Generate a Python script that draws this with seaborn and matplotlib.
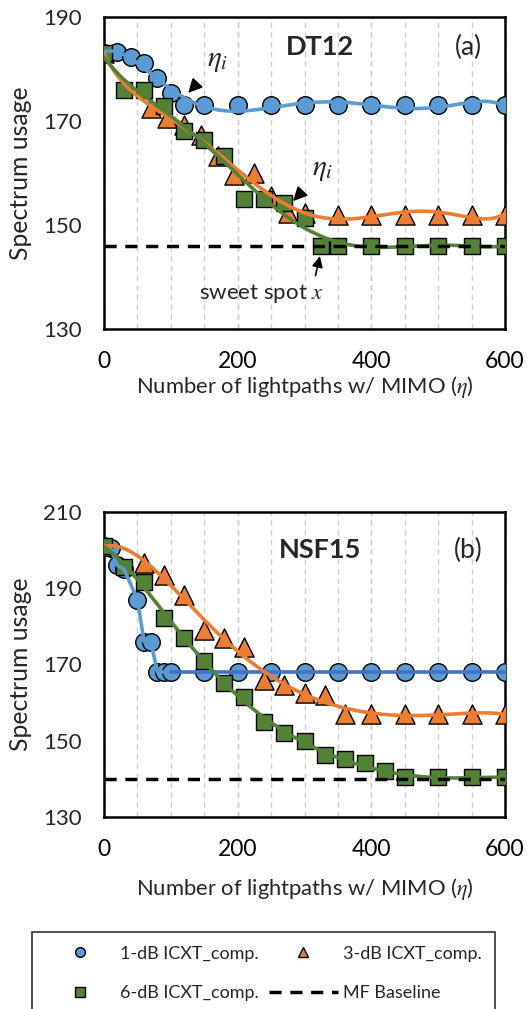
import numpy as np
import pandas as pd
import matplotlib
matplotlib.use("Agg")
import matplotlib.pyplot as plt
import seaborn as sns
from matplotlib.lines import Line2D
from matplotlib.ticker import MultipleLocator

# ---- panel (a) DT12 ----
dt_blue_x = [0, 20, 40, 60, 80, 100, 120, 150, 200, 250, 300, 350, 400, 450, 500, 550, 600]
dt_blue_y = [183, 183.2, 182.3, 181.2, 178.3, 175.4, 173, 173, 173, 173, 173, 173, 173, 173, 173, 173, 173]
dt_orange_x = [0, 70, 95, 120, 145, 170, 195, 225, 250, 275, 300, 350, 400, 450, 500, 550, 600]
dt_orange_y = [183, 172.5, 170.6, 169.3, 167.4, 163.2, 159.7, 160, 155.5, 152.3, 152.3, 152, 152, 152, 152, 152, 152]
dt_green_x = [0, 30, 60, 90, 120, 150, 180, 210, 240, 270, 300, 325, 350, 400, 450, 500, 550, 600]
dt_green_y = [183, 176, 176, 172.8, 168, 166.4, 163.2, 155, 155, 154.2, 151.3, 146, 146, 146, 146, 146, 146, 146]
dt_baseline = 146

# ---- panel (b) NSF15 ----
nsf_blue_x = [0, 10, 20, 30, 50, 60, 70, 80, 90, 100, 150, 200, 250, 300, 350, 400, 450, 500, 550, 600]
nsf_blue_y = [201, 200.5, 196, 195, 187, 176, 176, 168, 168, 168, 168, 168, 168, 168, 168, 168, 168, 168, 168, 168]
nsf_orange_x = [0, 60, 90, 120, 150, 180, 210, 240, 270, 300, 330, 360, 400, 450, 500, 550, 600]
nsf_orange_y = [201, 196.5, 193.5, 188.2, 179, 176.9, 174.7, 166, 164.6, 162.4, 162, 157, 157, 157, 157, 157, 157]
nsf_green_x = [0, 30, 60, 90, 120, 150, 180, 210, 240, 270, 300, 330, 360, 390, 420, 450, 500, 550, 600]
nsf_green_y = [201, 195.7, 191.7, 182.1, 176.9, 171, 165.1, 161.6, 155, 152, 150, 146.3, 145.1, 144.1, 142.1, 140.4, 140.4, 140.4, 140.4]
nsf_baseline = 140

series_names = ["1-dB ICXT_comp.", "3-dB ICXT_comp.", "6-dB ICXT_comp.", "MF Baseline"]
c_blue = "#5B9BD5"
c_blue_dark = "#4472C4"
c_orange = "#ED7D31"
c_green = "#548235"

sns.set_theme(style="white")
plt.rcParams['font.family'] = ['Lato', 'DejaVu Sans']
plt.rcParams['mathtext.fontset'] = 'stix'

fig = plt.figure(figsize=(5.27, 10.09), dpi=100)
ax_a = fig.add_axes([104 / 527, 1 - 329 / 1009, 401 / 527, 312 / 1009])
ax_b = fig.add_axes([104 / 527, 1 - 817 / 1009, 401 / 527, 305 / 1009])


def trend(x, y, deg=6):
    # polynomial trendline like the spreadsheet one
    p = np.polynomial.Polynomial.fit(x, y, deg)
    xs = np.linspace(min(x), max(x), 300)
    return pd.DataFrame({"x": xs, "y": p(xs)})


def draw_points(ax, x, y, color, marker, size):
    sns.scatterplot(x=x, y=y, ax=ax, color=color, marker=marker, s=size,
                    edgecolor="black", linewidth=1.0, zorder=3, legend=False)


def style_axes(ax, ylo, yhi, xlabelpad):
    ax.set_xlim(0, 600)
    ax.set_ylim(ylo, yhi)
    ax.set_xticks([0, 200, 400, 600])
    ax.set_yticks(np.arange(ylo, yhi + 1, 20))
    ax.xaxis.set_minor_locator(MultipleLocator(50))
    ax.yaxis.set_minor_locator(MultipleLocator(10))
    ax.xaxis.remove_overlapping_locs = False
    ax.grid(axis="x", which="both", ls=(0, (4, 3)), color="#cfcfcf", lw=1.0, zorder=0)
    ax.grid(axis="y", visible=False)
    ax.tick_params(axis="x", which="major", direction="inout", length=9, width=1.5,
                   labelsize=16.5, pad=11.5, colors="black")
    ax.tick_params(axis="x", which="minor", direction="in", length=5, width=1.5)
    ax.tick_params(axis="y", which="both", direction="out", length=5, width=1.5,
                   labelsize=16, pad=11)
    for s in ax.spines.values():
        s.set_color("black")
        s.set_linewidth(1.8)
    ax.set_ylabel("Spectrum usage", fontsize=17.8, labelpad=8)
    ax.set_xlabel(r"Number of lightpaths w/ MIMO ($\eta$)", fontsize=15.8, labelpad=xlabelpad)


# ---- (a) ----
draw_points(ax_a, dt_blue_x, dt_blue_y, c_blue, "o", 160)
draw_points(ax_a, dt_orange_x, dt_orange_y, c_orange, "^", 190)
draw_points(ax_a, dt_green_x, dt_green_y, c_green, "s", 120)
for xx, yy, col in [(dt_blue_x, dt_blue_y, c_blue), (dt_orange_x, dt_orange_y, c_orange),
                    (dt_green_x, dt_green_y, c_green)]:
    d = trend(xx, yy)
    sns.lineplot(data=d, x="x", y="y", ax=ax_a, color=col, lw=2.6, zorder=4)
ax_a.axhline(dt_baseline, color="black", ls=(0, (3.5, 2.5)), lw=2.5, zorder=5)
style_axes(ax_a, 130, 190, 1.5)

ax_a.text(323, 184.2, "DT12", fontsize=19.5, fontweight="bold", ha="center", va="center")
ax_a.text(545, 184.2, "(a)", fontsize=19, ha="center", va="center")
ax_a.annotate(r"$\eta_i$", xy=(126, 175.4), xytext=(170, 181.5), fontsize=21,
              ha="center", va="center",
              arrowprops=dict(arrowstyle="-|>", color="black", lw=1.2, shrinkA=9, shrinkB=0))
ax_a.annotate(r"$\eta_i$", xy=(283, 154.6), xytext=(327, 160.6), fontsize=21,
              ha="center", va="center",
              arrowprops=dict(arrowstyle="-|>", color="black", lw=1.2, shrinkA=9, shrinkB=0))
ax_a.annotate(r"sweet spot $x$", xy=(323, 144.0), xytext=(236, 136.9), fontsize=16,
              ha="center", va="center",
              arrowprops=dict(arrowstyle="-|>", color="black", lw=1.2, shrinkA=2, shrinkB=0,
                              relpos=(0.92, 1.0)))

# ---- (b) ----
draw_points(ax_b, nsf_blue_x, nsf_blue_y, c_blue, "o", 160)
draw_points(ax_b, nsf_orange_x, nsf_orange_y, c_orange, "^", 190)
draw_points(ax_b, nsf_green_x, nsf_green_y, c_green, "s", 120)
bx = np.array(nsf_blue_x)
by = np.array(nsf_blue_y)
head = bx <= 100
sns.lineplot(x=bx[head], y=by[head], ax=ax_b, color=c_blue, lw=2.6, zorder=4)
sns.lineplot(x=bx[bx >= 100], y=by[bx >= 100], ax=ax_b, color=c_blue_dark, lw=2.6, zorder=4)
for xx, yy, col in [(nsf_orange_x, nsf_orange_y, c_orange), (nsf_green_x, nsf_green_y, c_green)]:
    d = trend(xx, yy)
    sns.lineplot(data=d, x="x", y="y", ax=ax_b, color=col, lw=2.6, zorder=4)
ax_b.axhline(nsf_baseline, color="black", ls=(0, (3.5, 2.5)), lw=2.5, zorder=5)
style_axes(ax_b, 130, 210, 11)

ax_b.text(323, 200, "NSF15", fontsize=19.5, fontweight="bold", ha="center", va="center")
ax_b.text(545, 200, "(b)", fontsize=19, ha="center", va="center")

# ---- legend (filled column by column, so order gives row-wise layout) ----
h_blue = Line2D([], [], ls="none", marker="o", ms=7, mfc=c_blue, mec="black", mew=1)
h_orange = Line2D([], [], ls="none", marker="^", ms=7, mfc=c_orange, mec="black", mew=1)
h_green = Line2D([], [], ls="none", marker="s", ms=6.5, mfc=c_green, mec="black", mew=1)
h_base = Line2D([], [], color="black", ls=(0, (3.5, 2.5)), lw=2.5)
leg = fig.legend([h_blue, h_green, h_orange, h_base],
                 [series_names[0], series_names[2], series_names[1], series_names[3]],
                 ncol=2, loc="upper left",
                 bbox_to_anchor=(32 / 527, 1 - 932 / 1009), fontsize=13,
                 frameon=True, fancybox=False, edgecolor="black",
                 handlelength=3.8, handletextpad=0.3, columnspacing=0.6,
                 labelspacing=1.3, borderpad=0.75, borderaxespad=0)
leg.get_frame().set_linewidth(1.2)

fig.savefig("out.png", dpi=100)
